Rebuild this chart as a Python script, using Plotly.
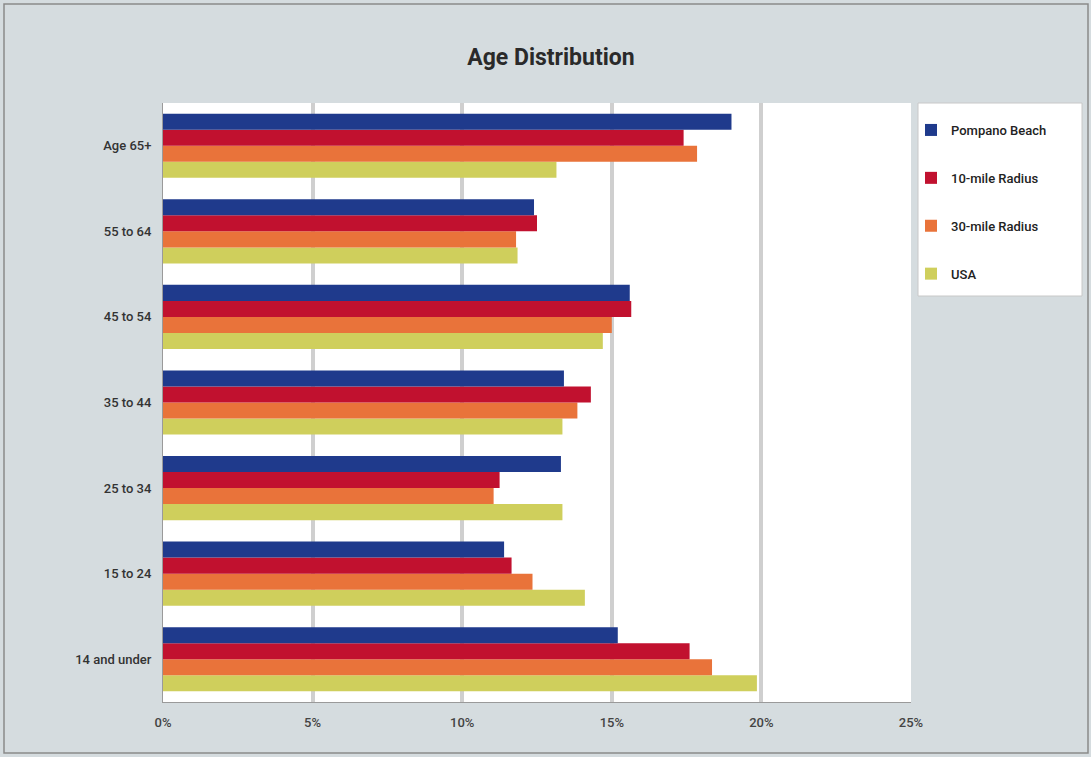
import plotly.graph_objects as go

categories = ["14 and under", "15 to 24", "25 to 34", "35 to 44", "45 to 54", "55 to 64", "Age 65+"]
pompano = [15.2, 11.4, 13.3, 13.4, 15.6, 12.4, 19.0]
mile10 = [17.6, 11.65, 11.25, 14.3, 15.65, 12.5, 17.4]
mile30 = [18.35, 12.35, 11.05, 13.85, 15.0, 11.8, 17.85]
usa = [19.85, 14.1, 13.35, 13.35, 14.7, 11.85, 13.15]
tick_vals = [0, 5, 10, 15, 20, 25]
tick_text = ["0%", "5%", "10%", "15%", "20%", "25%"]

series = [
    ("USA", usa, "#cfcf5c", 4),
    ("30-mile Radius", mile30, "#e9733a", 3),
    ("10-mile Radius", mile10, "#c1112f", 2),
    ("Pompano Beach", pompano, "#1f3a8c", 1),
]

fig = go.Figure()
for name, vals, col, rank in series:
    fig.add_trace(go.Bar(
        y=categories, x=vals, name=name, orientation="h",
        marker=dict(color=col, line=dict(width=0)),
        legendgroup=name, legendrank=rank,
    ))

W, H = 1091, 757
L, R, T, B = 163, 911, 103, 702
pw, ph = R - L, B - T

def px(x):
    return (x - L) / pw

def py(y):
    return (B - y) / ph

fig.update_layout(
    width=W, height=H,
    margin=dict(l=L, r=W - R, t=T, b=H - B),
    paper_bgcolor="#d5dcdf",
    plot_bgcolor="white",
    barmode="group",
    bargap=0.25,
    bargroupgap=0,
    font=dict(family="Roboto", color="#333333", size=13),
    title=dict(text="<b>Age Distribution</b>", x=0.505, xanchor="center", y=0.925, yanchor="middle",
               font=dict(family="Roboto", size=23, color="#2a2a2a")),
    legend=dict(
        x=px(911), y=py(115), xanchor="left", yanchor="top",
        traceorder="grouped", bgcolor="rgba(0,0,0,0)",
        tracegroupgap=28, font=dict(size=13, color="#222222", weight=500),
        itemwidth=30,
    ),
    xaxis=dict(
        range=[0, 25], tickvals=tick_vals, ticktext=tick_text,
        showgrid=True, gridcolor="#cfcfcf", gridwidth=4,
        zeroline=False, showline=True, linecolor="#9a9a9a", linewidth=1,
        ticks="", tickfont=dict(size=13, color="#444444", weight=500), ticklabelstandoff=8,
    ),
    yaxis=dict(
        showgrid=False, showline=True, linecolor="#9a9a9a", linewidth=1,
        ticks="", tickfont=dict(size=13, color="#333333", weight=500), ticklabelstandoff=8,
    ),
    shapes=[
        dict(type="rect", xref="paper", yref="paper",
             x0=px(918), x1=px(1082), y0=py(296), y1=py(103),
             fillcolor="white", line=dict(color="#c8c8c8", width=1), layer="below"),
        dict(type="rect", xref="paper", yref="paper",
             x0=px(4), x1=px(1088), y0=py(753), y1=py(4),
             fillcolor="rgba(0,0,0,0)", line=dict(color="#8a8a8a", width=1.5), layer="below"),
    ],
)

fig.write_html("out.html", config={"displayModeBar": False},
               post_script="document.body.style.margin='0';")
